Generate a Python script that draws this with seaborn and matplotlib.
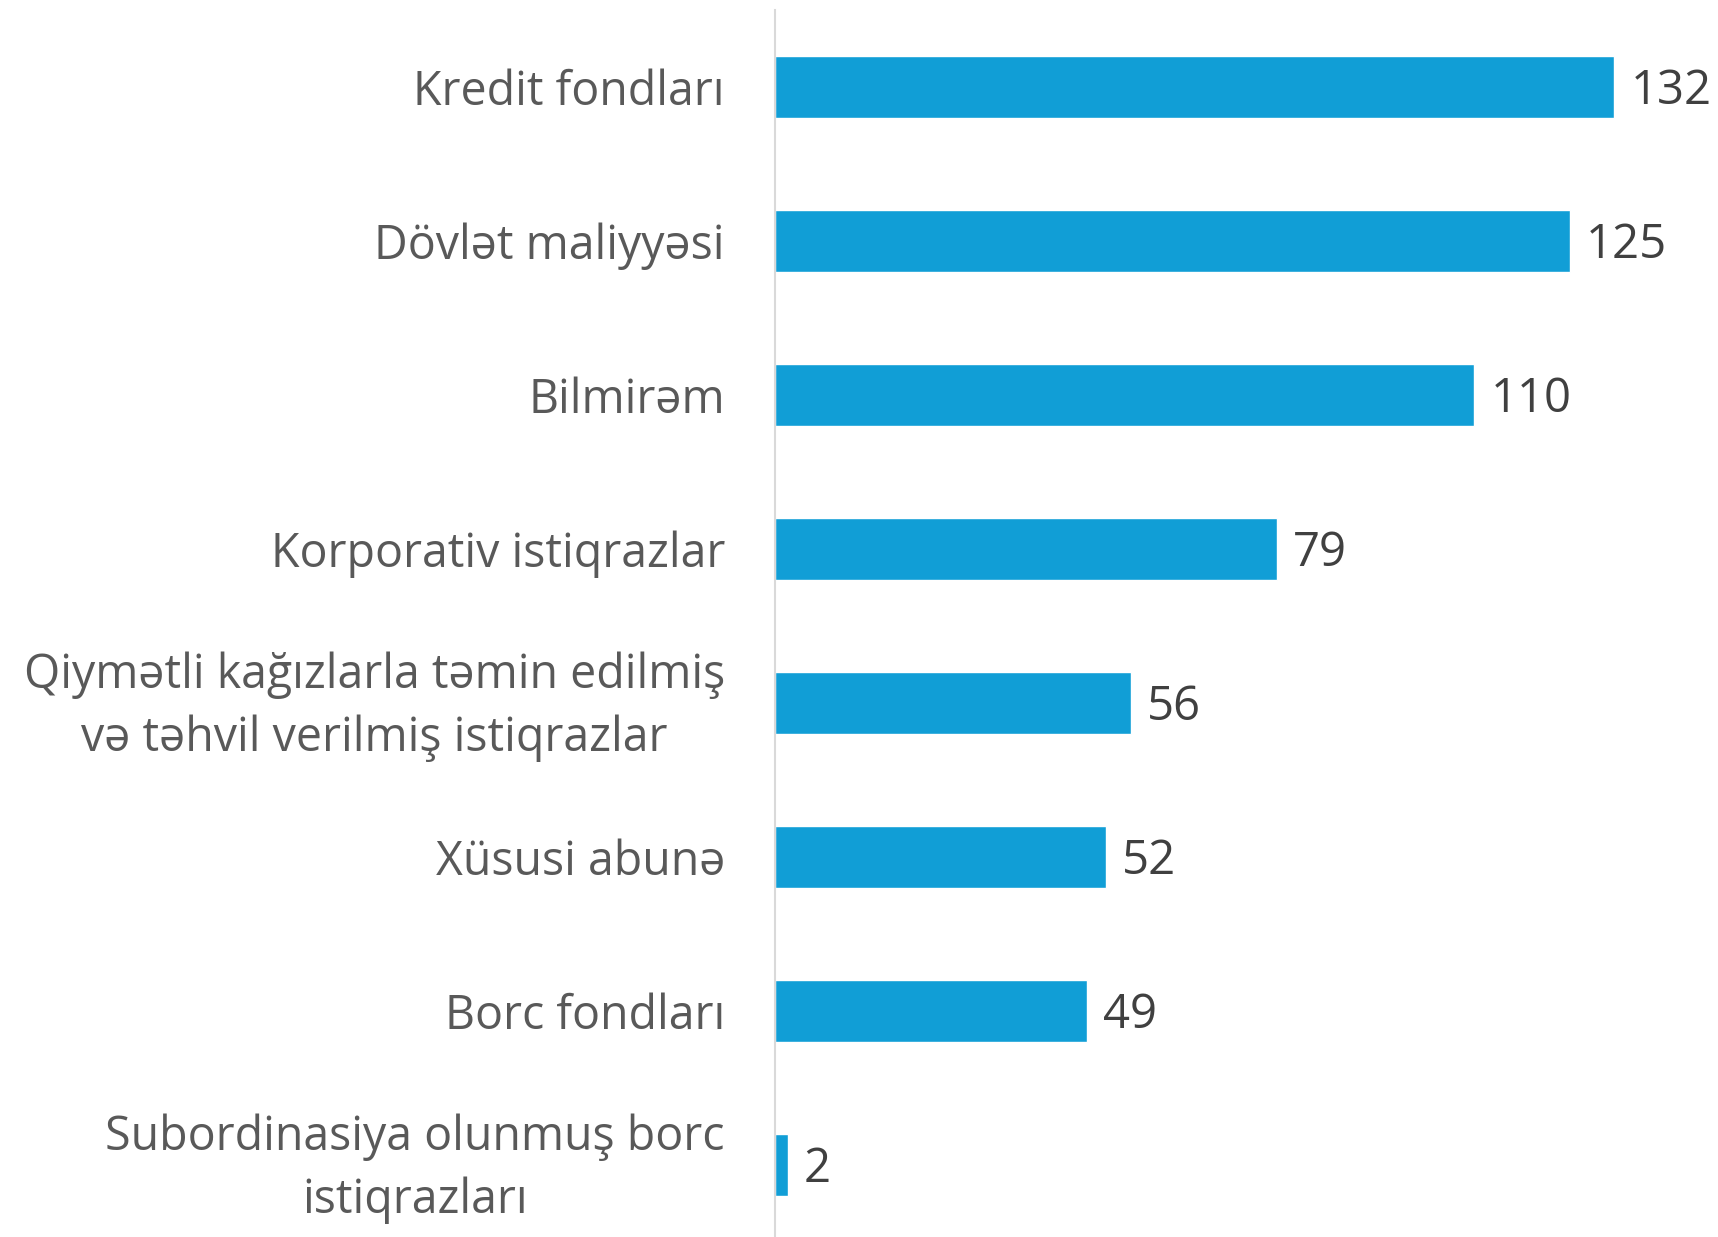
import matplotlib
matplotlib.use("Agg")
import matplotlib.pyplot as plt
import matplotlib.transforms as mtransforms
import seaborn as sns
import pandas as pd

categories = [
    "Kredit fondları",
    "Dövlət maliyyəsi",
    "Bilmirəm",
    "Korporativ istiqrazlar",
    "Qiymətli kağızlarla təmin edilmiş\nvə təhvil verilmiş istiqrazlar",
    "Xüsusi abunə",
    "Borc fondları",
    "Subordinasiya olunmuş borc\nistiqrazları",
]
values = [132, 125, 110, 79, 56, 52, 49, 2]

BAR_COLOR = "#119ED6"
LABEL_COLOR = "#595959"
VALUE_COLOR = "#404040"

sns.set_theme(style="white")
plt.rcParams["font.family"] = ["Open Sans", "DejaVu Sans"]

df = pd.DataFrame({"category": categories, "value": values})

fig = plt.figure(figsize=(17.18, 12.37), dpi=100)
ax = fig.add_axes([0.4511, -0.004, 0.5489, 0.9959])

sns.barplot(data=df, x="value", y="category", orient="h", color=BAR_COLOR,
            width=0.40, saturation=1, ax=ax)

ax.set_xlim(0, 148.3)
ax.set_ylim(7.5, -0.5)
ax.set_xlabel("")
ax.set_ylabel("")
ax.set_xticks([])

for s in ["top", "right", "bottom"]:
    ax.spines[s].set_visible(False)
ax.spines["left"].set_color("#D9D9D9")
ax.spines["left"].set_linewidth(1.5)

ax.tick_params(axis="y", length=0, pad=36, labelsize=33.5, labelcolor=LABEL_COLOR)
# two-line labels sit a little higher than the bar centre
lift = mtransforms.ScaledTranslation(0, 9 / 100, fig.dpi_scale_trans)
for lbl in ax.get_yticklabels():
    lbl.set_multialignment("center")
    lbl.set_linespacing(1.42)
    if "\n" in lbl.get_text():
        lbl.set_transform(lbl.get_transform() + lift)

for i, v in enumerate(values):
    ax.annotate(str(v), xy=(v, i), xytext=(16, -4), textcoords="offset pixels",
                ha="left", va="center", fontsize=34, color=VALUE_COLOR,
                annotation_clip=False)

fig.savefig("out.png", dpi=100)
